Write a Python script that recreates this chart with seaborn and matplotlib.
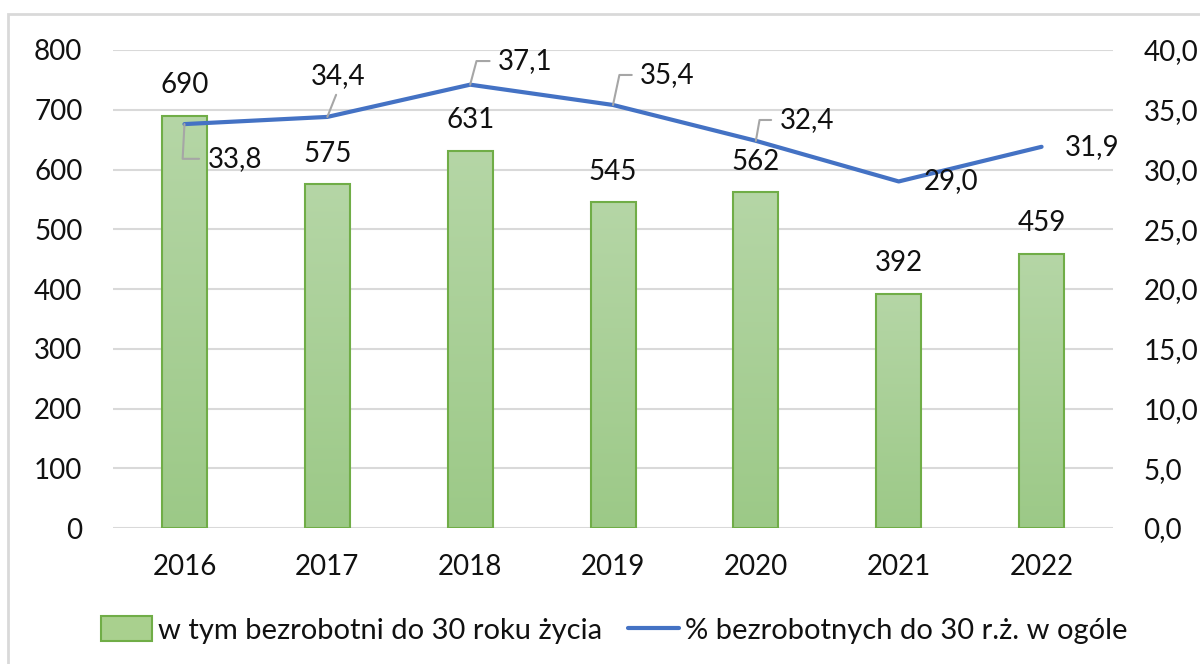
import numpy as np
import pandas as pd
import matplotlib
matplotlib.use("Agg")
import matplotlib.pyplot as plt
from matplotlib.colors import LinearSegmentedColormap
from matplotlib.patches import Patch, Rectangle
from matplotlib.lines import Line2D
import seaborn as sns

# data
years = ['2016', '2017', '2018', '2019', '2020', '2021', '2022']
unemployed_u30 = [690, 575, 631, 545, 562, 392, 459]
share_u30 = [33.8, 34.4, 37.1, 35.4, 32.4, 29.0, 31.9]
bar_name = 'w tym bezrobotni do 30 roku życia'
line_name = '% bezrobotnych do 30 r.ż. w ogóle'
left_ticks = np.arange(0, 801, 100)
right_ticks = np.arange(0, 41, 5)

# where the % labels sit (offset points) and how the leader is drawn
label_offsets = [(16.5, -25), (8, 29.5), (20, 17), (19.5, 21.6), (17, 15), (18, 0), (16.5, 0)]
leader_kind = ['elbow', 'straight', 'elbow', 'elbow', 'elbow', 'none', 'none']
leader_angle = [87, 0, 75, 78, 80, 0, 0]

green_edge = '#70ad47'
green_top, green_bottom = '#b5d6a6', '#9cc987'
blue = '#4472c4'
txt = '#111111'
fs = 20

sns.set_theme(style='white')
plt.rcParams['font.family'] = ['Lato', 'DejaVu Sans']

fig = plt.figure(figsize=(12, 6.64), dpi=100)
ax = fig.add_axes([0.0942, 0.2048, 0.8333, 0.7199])

df = pd.DataFrame({'rok': years, 'liczba': unemployed_u30})
sns.barplot(data=df, x='rok', y='liczba', ax=ax, width=0.315, color='#a9d08e',
            edgecolor=green_edge, linewidth=1.5, saturation=1)

# gradient fill inside each bar
cmap = LinearSegmentedColormap.from_list('g', [green_bottom, green_top])
grad = np.linspace(0, 1, 256).reshape(-1, 1)
for bar in list(ax.patches):
    x0, y0, w, h = bar.get_x(), bar.get_y(), bar.get_width(), bar.get_height()
    im = ax.imshow(grad, extent=[x0, x0 + w, y0, y0 + h], aspect='auto', cmap=cmap,
                   origin='lower', zorder=2)
    im.set_clip_path(bar)
    bar.set_facecolor('none')
    bar.set_zorder(3)

ax.set_xlim(-0.5, len(years) - 0.5)
ax.set_ylim(0, 800)
ax.set_yticks(left_ticks)
ax.yaxis.grid(True, color='#d9d9d9', lw=1.5)
ax.set_axisbelow(True)
ax.set_xlabel('')
ax.set_ylabel('')
for s in ax.spines.values():
    s.set_visible(False)
ax.tick_params(axis='y', length=0, labelsize=fs, colors=txt, pad=22)
ax.tick_params(axis='x', length=0, labelsize=fs, colors=txt, pad=19)

for i, v in enumerate(unemployed_u30):
    ax.annotate(str(v), xy=(i, v), xytext=(0, 22), textcoords='offset points',
                ha='center', va='center', fontsize=fs, color=txt, zorder=5)

# percentage line on the right axis
ax2 = ax.twinx()
sns.lineplot(x=np.arange(len(years)), y=share_u30, ax=ax2, color=blue, lw=3, sort=False)
ax2.set_ylim(0, 40)
ax2.set_yticks(right_ticks)
ax2.set_yticklabels([f'{t:.1f}'.replace('.', ',') for t in right_ticks])
ax2.tick_params(axis='y', length=0, labelsize=fs, colors=txt, pad=22)
for s in ax2.spines.values():
    s.set_visible(False)
ax2.set_xlim(-0.5, len(years) - 0.5)

for i, v in enumerate(share_u30):
    label = f'{v:.1f}'.replace('.', ',')
    dx, dy = label_offsets[i]
    kind = leader_kind[i]
    if kind == 'elbow':
        ax2.annotate(label, xy=(i, v), xytext=(dx, dy), textcoords='offset points',
                     ha='left', va='center', fontsize=fs, color=txt,
                     arrowprops=dict(arrowstyle='-', color='#a6a6a6', lw=1.5,
                                     shrinkA=6, shrinkB=0, relpos=(0, 0.5), patchA=None,
                                     connectionstyle=f'angle,angleA=0,angleB={leader_angle[i]},rad=0'))
    elif kind == 'straight':
        ax2.annotate(label, xy=(i, v), xytext=(dx, dy), textcoords='offset points',
                     ha='center', va='center', fontsize=fs, color=txt,
                     arrowprops=dict(arrowstyle='-', color='#a6a6a6', lw=1.5,
                                     shrinkA=2, shrinkB=0, relpos=(0.5, 0)))
    else:
        ax2.annotate(label, xy=(i, v), xytext=(dx, dy), textcoords='offset points',
                     ha='left', va='center', fontsize=fs, color=txt)

handles = [Patch(facecolor='#a9d08e', edgecolor=green_edge, lw=1.5),
           Line2D([], [], color=blue, lw=3)]
fig.legend(handles, [bar_name, line_name], loc='center',
           bbox_to_anchor=(614 / 1200, 1 - 630 / 664), ncol=2, frameon=False,
           fontsize=21, handlelength=1.75, handleheight=0.9, handletextpad=0.2,
           columnspacing=0.9, labelcolor=txt)

# outer chart frame (cut off on the right and bottom)
fig.patches.append(Rectangle((8 / 1200, -0.1), 1.2, 1 - 14 / 664 + 0.1,
                             transform=fig.transFigure, fill=False,
                             edgecolor='#d9d9d9', lw=2))

fig.savefig('out.png', dpi=100)
